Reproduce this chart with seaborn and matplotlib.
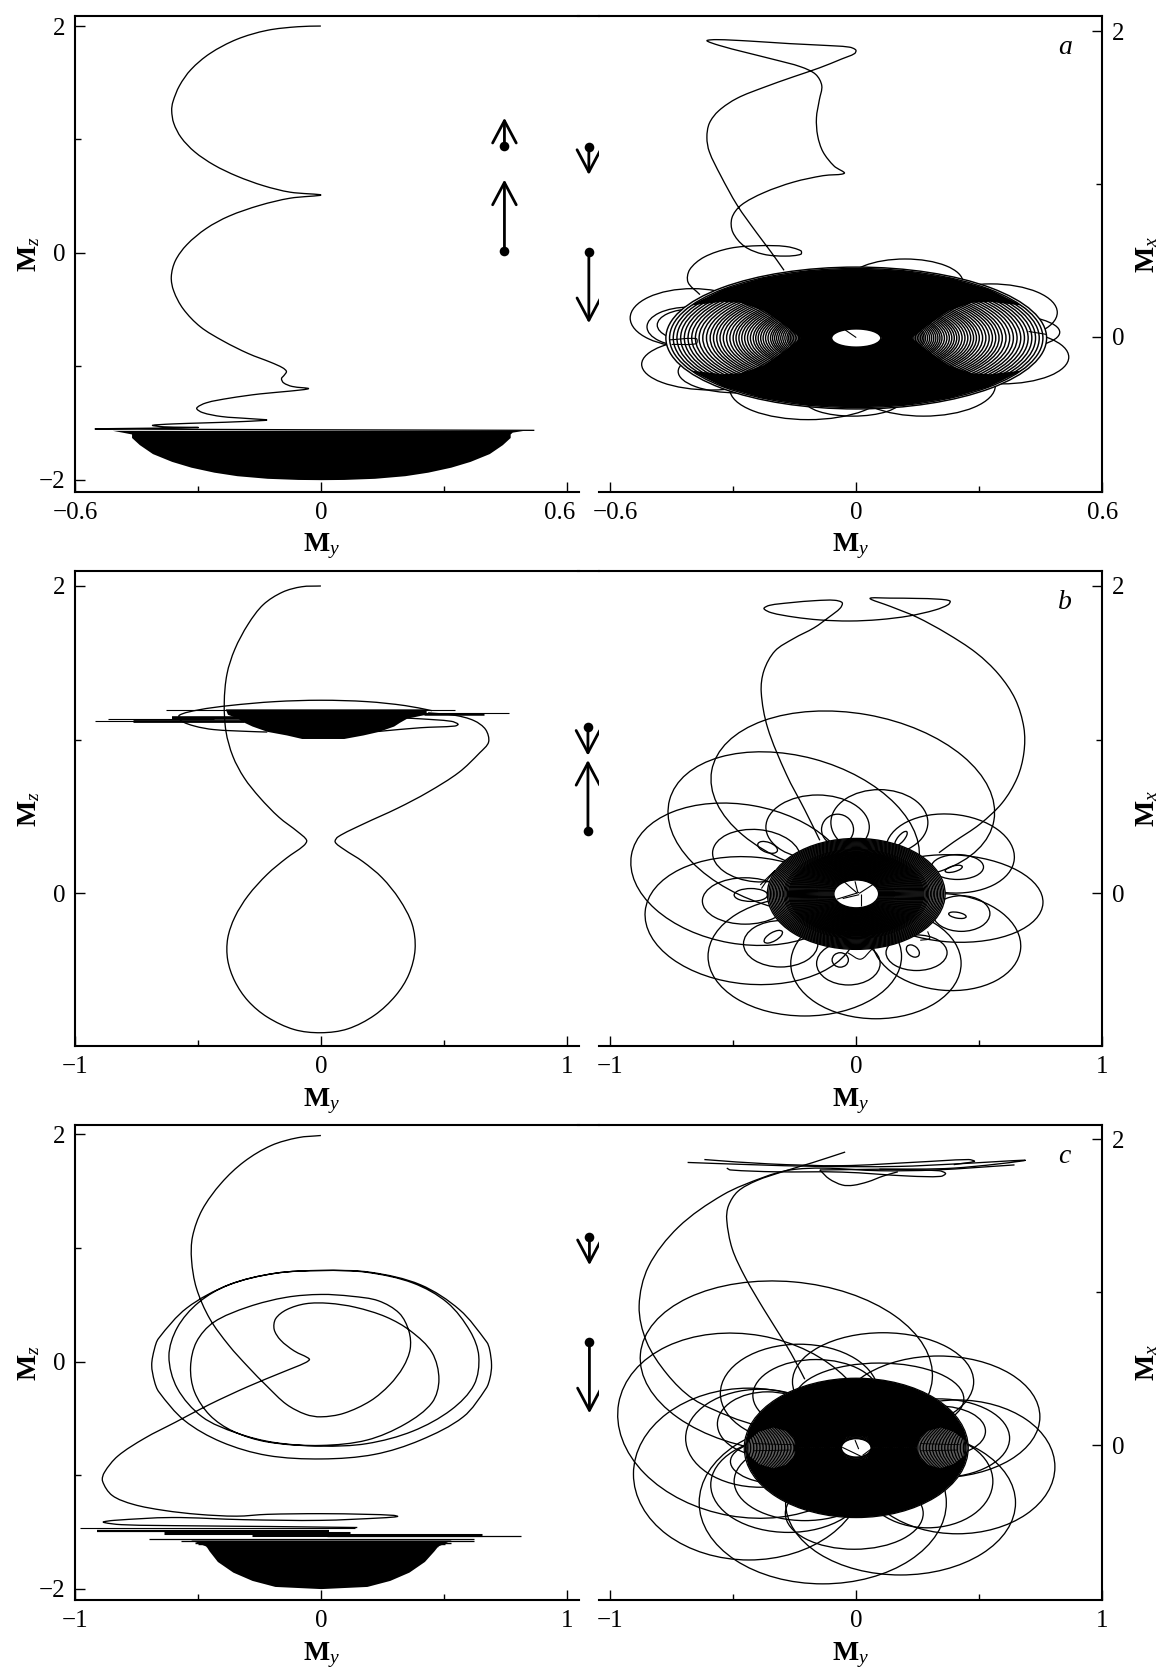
import numpy as np
import matplotlib
matplotlib.use("Agg")
import matplotlib.pyplot as plt
import seaborn as sns
from matplotlib.lines import Line2D
from matplotlib.patches import Ellipse
from matplotlib.path import Path
from matplotlib.patheffects import AbstractPathEffect
from matplotlib.transforms import Affine2D, IdentityTransform, ScaledTranslation

# ---------- panel a, left (My, Mz) ----------
a_l_x = [0,-.056,-.131,-.205,-.271,-.317,-.345,-.361,-.364,-.359,-.341,-.308,-.261,-.205,-.140,-.075,0,
         -.075,-.149,-.224,-.280,-.327,-.355,-.365,-.359,-.336,-.294,-.238,-.177,-.121,-.093,-.084,-.089,-.096,-.091,-.070,-.030,
         -.075,-.149,-.224,-.280,-.303,-.289,-.243,-.177,-.132,-.187,-.280,-.364,-.411,-.383,-.299,-.411,-.551,.521]
a_l_y = [2.0,1.994,1.962,1.883,1.757,1.616,1.474,1.332,1.254,1.143,1.017,.891,.775,.677,.592,.535,.510,
         .482,.419,.324,.214,.072,-.069,-.211,-.337,-.494,-.652,-.778,-.888,-.967,-1.014,-1.046,-1.077,-1.109,-1.146,-1.178,-1.197,
         -1.219,-1.244,-1.282,-1.323,-1.370,-1.408,-1.443,-1.461,-1.474,-1.487,-1.499,-1.509,-1.521,-1.534,-1.540,-1.546,-1.553,-1.565]
a_cap_z = [-1.565,-1.581,-1.597,-1.628,-1.691,-1.770,-1.839,-1.890,-1.934,-1.965,-1.988,-1.998,-2.0]
a_cap_l = [-.509,-.485,-.462,-.462,-.443,-.411,-.364,-.317,-.261,-.205,-.131,-.056,0]
a_cap_r = [.495,.467,.462,.462,.443,.411,.364,.317,.261,.205,.131,.056,0]

# ---------- panel a, right (My, Mx) ----------
a_r_x = [-.176,-.208,-.244,-.290,-.331,-.358,-.364,-.358,-.335,-.290,-.226,-.153,-.090,-.035,-.004,-.001,-.017,-.081,-.163,-.262,-.340,-.364,
         -.335,-.272,-.199,-.135,-.099,-.084,-.090,-.097,-.094,-.081,-.054,-.029,-.081,-.153,-.226,-.281,-.303,-.301,-.272,-.226,-.172,-.135,-.135,
         -.172,-.235,-.308,-.371,-.406,-.410,-.381]
a_r_y = [.435,.556,.685,.860,1.058,1.210,1.304,1.397,1.479,1.561,1.631,1.701,1.759,1.818,1.853,1.876,1.895,1.907,1.918,1.935,1.944,1.937,
         1.907,1.862,1.813,1.766,1.717,1.643,1.549,1.432,1.315,1.210,1.117,1.070,1.054,1.012,.942,.860,.778,.685,.591,.540,.528,.540,.563,
         .591,.596,.579,.521,.439,.357,.276]
a_loop_x = [-.399,-.408,-.399,-.353,-.290,-.117,.164,.355,.328,.346,.119,-.008]
a_loop_y = [.123,.065,.077,-.180,-.227,-.343,-.320,-.133,.159,.030,.357,-.414]
a_loop_a = [.152,.102,.086,.170,.144,.191,.175,.163,.162,.150,.141,.118]
a_loop_b = [.192,.129,.105,.168,.140,.199,.199,.175,.187,.117,.152,.105]
a_rings = [.464,.455,.446,.437,.428,.419,.410,.401,.392,.383,.374,.365,.356,.348,.340,.332,.324,.316,.308,.300,
           .293,.286,.279,.272,.265,.258,.251,.245,.239,.233,.227,.221,.215,.209,.204,.199,.194,.189,.184,.179,
           .174,.169,.165,.161,.157,.153,.149,.145,.141,.138,.135,.132,.129,.126,.123,.120,.117,.114,.111,.108,
           .105,.102,.099,.096,.093,.090,.087,.084,.081,.078,.075,.072,.069,.066,.063,.060]
# solid parts of the disc above and below the two striped lobes
a_solid_top_x = [-.426,-.399,-.326,-.281,-.226,-.181,-.135,-.063,-.05,-.035,0,.035,.05,.063,.135,.181,.226,.281,.326,.399,.426,
                 .394,.322,.228,.118,0,-.118,-.228,-.322,-.394]
a_solid_top_y = [.164,.206,.229,.222,.171,.089,-.008,-.008,.030,.058,.065,.058,.030,-.008,-.008,.089,.171,.222,.229,.206,.164,
                 .220,.314,.386,.432,.447,.432,.386,.314,.220]
a_solid_bot_x = a_solid_top_x
a_solid_bot_y = [-.180,-.222,-.245,-.238,-.187,-.105,-.008,-.008,-.046,-.074,-.081,-.074,-.046,-.008,-.008,-.105,-.187,-.238,-.245,-.222,-.180,
                 -.236,-.330,-.402,-.448,-.463,-.448,-.402,-.330,-.236]
a_spoke_x = [-.027,0]
a_spoke_y = [.045,-.005]
a_mark_x = [-.455,-.39,-.39,-.45]
a_mark_y = [-.02,-.012,-.045,-.05]
a_mark2_x = [.42,.465]
a_mark2_y = [.035,.015]

# ---------- panel b, left ----------
b_l_x = [0,-.078,-.156,-.234,-.296,-.350,-.382,-.393,-.386,-.358,-.312,-.249,-.171,-.093,-.058,-.070,-.140,-.218,-.296,-.350,-.379,-.379,
         -.350,-.296,-.218,-.109,0,.109,.218,.304,.358,.383,.371,.319,.249,.171,.093,.058,.070,.171,.312,.436,.561,.646,.682,.670,.623,.545,.436]
b_l_y = [2.0,1.995,1.960,1.879,1.751,1.588,1.426,1.240,1.053,.891,.751,.623,.495,.398,.344,.309,.228,.123,-.016,-.156,-.295,-.435,
         -.574,-.702,-.807,-.888,-.909,-.884,-.795,-.667,-.528,-.365,-.202,-.040,.100,.205,.286,.333,.367,.449,.553,.658,.786,.914,.984,1.065,1.123,1.158,1.174]
b_arc_x = [.452,.343,.187,0,-.187,-.374,-.498,-.576,-.569,-.514,-.436,-.296,-.218]
b_arc_y = [1.188,1.221,1.247,1.256,1.247,1.221,1.193,1.158,1.123,1.088,1.065,1.053,1.049]
b_lobe_x = [.234,.405,.545,.558,.530,.405,.343]
b_lobe_y = [1.053,1.077,1.088,1.100,1.119,1.135,1.140]
b_cap_z = [1.200,1.165,1.140,1.112,1.088,1.053,1.030,1.007]
b_cap_l = [-.389,-.380,-.340,-.312,-.280,-.218,-.140,-.078]
b_cap_r = [.428,.428,.350,.319,.296,.234,.171,.093]
b_h_y  = [1.193,1.165,1.174,1.123,1.119,1.135,1.138]
b_h_x0 = [-.631,.421,.421,-.919,-.763,-.864,-.607]
b_h_x1 = [.545,.662,.763,-.312,-.312,-.436,-.320]
b_h_w  = [.8,1.8,.8,.8,2.0,.8,2.6]

# ---------- panel b, right ----------
b_r_x = [-.148,-.209,-.284,-.360,-.386,-.375,-.330,-.254,-.171,-.110,-.065,-.057,-.088,-.163,-.269,-.352,-.375,-.345,-.254,-.148,-.027,.094,.215,.321,
         .374,.381,.336,.245,.139,.056,.139,.245,.366,.487,.578,.646,.681,.681,.654,.593,.502,.396,.336]
b_r_y = [.344,.542,.774,1.077,1.309,1.449,1.577,1.658,1.728,1.798,1.856,1.891,1.907,1.905,1.891,1.874,1.853,1.826,1.798,1.779,1.772,1.781,1.805,1.844,
         1.879,1.902,1.914,1.919,1.921,1.919,1.867,1.798,1.693,1.565,1.426,1.263,1.077,.914,.751,.588,.449,.333,.263]
b_loop_x = [-.014,-.254,-.466,-.428,-.209,.080,.366,.396,.381,-.157,.094,-.405,.411,-.451,.427,-.307,-.032,.245,-.076,.182,.396,-.428,.411,-.337,-.065,.230,-.360]
b_loop_y = [.635,.391,.123,-.179,-.412,-.458,-.319,-.035,.258,.430,.460,.244,.170,-.051,-.133,-.330,-.458,-.388,.414,.356,.158,-.012,-.144,-.284,-.435,-.377,.298]
b_loop_a = [.582,.522,.454,.431,.393,.346,.303,.363,.262,.210,.197,.179,.106,.174,.116,.151,.129,.124,.065,.036,.036,.068,.036,.042,.033,.030,.042]
b_loop_b = [.535,.500,.453,.414,.388,.360,.314,.284,.256,.209,.214,.170,.081,.151,.116,.151,.140,.116,.100,.021,.019,.042,.019,.028,.047,.033,.033]
b_loop_t = [-10,-15,-10,-5,0,0,-5,-3,-5,0,0,-5,0,0,0,0,0,0,0,50,15,0,-10,30,0,-40,-20]
b_rings = [.361,.355,.349,.343,.337,.331,.325,.319,.313,.307,.301,.295,.290,.285,.280,
           .275,.271,.267,.263,.259,.255,.251,.247,.243,.239,.235,.231,.227,.223,.219,.215,.211,.207,.203,.199,
           .195,.191,.187,.183,.179,.175,.171,.167,.163,.159,.155,.151,.147,.143,.139,.135,.131,.127,.123,.119,
           .115,.111,.107,.103,.099,.095,.091]
b_spoke_x0 = [.006,.012,.012,.018,-.055,.004]
b_spoke_y0 = [.007,-.002,.005,-.005,-.035,.0]
b_spoke_x1 = [-.005,.076,-.080,.018,.012,-.050]
b_spoke_y1 = [.077,.065,-.040,-.085,-.010,.075]
b_jag1_x = [-.035,.018,.064]
b_jag1_y = [-.388,-.430,-.365]
b_jag2_x = [.26,.298,.29]
b_jag2_y = [-.307,-.295,-.249]
b_jag3_x = [-.39,-.33,-.36,-.385]
b_jag3_y = [.053,.147,.088,.03]

# ---------- panel c, left ----------
c_l_x = [0,-.093,-.202,-.312,-.405,-.483,-.522,-.526,-.506,-.452,-.374,-.296,-.218,-.140,-.062,0,.093,.202,.280,.335,.363,.358,.319,.234,.125,0,
         -.140,-.296,-.436,-.506,-.530,-.514,-.452,-.358,-.218,0,.187,.374,.530,.623,.642,.607,.514,.374,.187,.003,-.187,-.374,-.545,-.660,-.677,-.688,-.677,
         -.659,-.555,-.405,-.218,.003,.218,.405,.579,.672,.688,.694,.686,.674,.564,.405,.202,.003,-.187,-.374,-.498,-.584,-.618,-.584,-.483,-.343,-.187,0,
         .187,.343,.452,.480,.452,.366,.265,.140,.031,-.062,-.140,-.184,-.190,-.164,-.109,-.047,-.062,-.156,-.296,-.452,-.592,-.717,-.826,-.880,
         -.888,-.849,-.763,-.639,-.498,-.343,-.218,0,.187,.296,.312,.249,0,-.312,-.607,-.841,-.885,-.810,-.530,-.218,.148]
c_l_y = [1.991,1.972,1.903,1.761,1.572,1.336,1.101,.896,.645,.377,.142,-.047,-.220,-.377,-.465,-.487,-.456,-.346,-.204,-.047,.110,.267,.425,.535,.575,.591,
         .566,.481,.346,.173,-.047,-.267,-.472,-.613,-.708,-.745,-.723,-.613,-.425,-.204,.047,.267,.519,.692,.786,.802,.777,.676,.472,.204,.110,-.031,-.173,
         -.267,-.519,-.708,-.827,-.858,-.818,-.692,-.487,-.236,-.141,-.031,.107,.173,.456,.676,.786,.802,.777,.676,.519,.299,.047,-.236,-.487,-.629,-.714,-.739,
         -.692,-.550,-.362,-.157,.079,.267,.393,.478,.513,.509,.456,.377,.283,.189,.094,.022,-.009,-.094,-.220,-.377,-.535,-.676,-.833,-.975,
         -1.053,-1.179,-1.258,-1.311,-1.346,-1.362,-1.346,-1.340,-1.346,-1.355,-1.365,-1.377,-1.399,-1.393,-1.374,-1.399,-1.415,-1.437,-1.447,-1.453,-1.462]
c_cap_z = [-1.572,-1.626,-1.667,-1.761,-1.855,-1.928,-1.981,-2.0]
c_cap_l = [-.530,-.467,-.455,-.421,-.358,-.280,-.187,0]
c_cap_r = [.530,.475,.460,.421,.358,.280,.187,0]
c_h_y  = [-1.469,-1.494,-1.509,-1.525,-1.535,-1.566,-1.582,-1.597,-1.610,-1.626]
c_h_x0 = [-.978,-.911,-.639,-.280,.023,-.701,-.569,-.514,-.498,-.467]
c_h_x1 = [.140,.031,.117,.654,.813,.623,.623,.530,.506,.475]
c_h_w  = [.8,1.6,2.2,2.2,.9,.9,.9,1.0,1.0,1.0]

# ---------- panel c, right ----------
c_a_x = [-.209,-.247,-.284,-.375,-.451,-.504,-.526,-.519,-.481,-.405,-.300,-.179,-.045]
c_a_y = [.432,.549,.654,.888,1.098,1.285,1.472,1.565,1.659,1.729,1.787,1.846,1.916]
c_b_x = [-.405,-.511,-.663,-.769,-.852,-.882,-.844,-.723,-.542,-.375,-.269,-.133,.094,.321,.643]
c_b_y = [.129,.187,.304,.467,.678,.911,1.168,1.425,1.636,1.752,1.799,1.811,1.794,1.799,1.832]
c_c_x = [-.685,-.436,-.148,.169,.411,.687,.396,.094,-.148]
c_c_y = [1.848,1.834,1.822,1.822,1.839,1.862,1.811,1.804,1.799]
c_d_x = [-.617,-.360,-.057,.245,.457,.480,.396]
c_d_y = [1.867,1.839,1.827,1.850,1.867,1.855,1.834]
c_e_x = [-.526,-.511,-.330,-.057,.215,.343,.363,.336,.094]
c_e_y = [1.811,1.799,1.787,1.785,1.759,1.757,1.776,1.794,1.804]
c_f_x = [-.148,-.110,-.057,-.012,.048,.109,.169]
c_f_y = [1.799,1.741,1.701,1.699,1.722,1.759,1.787]
c_loop_x = [-.284,-.451,-.436,-.136,.180,.411,.335,.109,-.390,-.231,-.163,.336,.336,-.360,.290,-.276,-.209,-.008,.094,-.284]
c_loop_y = [.514,.129,-.187,-.374,-.374,-.140,.187,.416,.047,.339,.327,.047,.093,.140,-.234,-.257,-.234,-.444,.304,-.105]
c_loop_a = [.595,.522,.469,.502,.467,.396,.411,.368,.303,.321,.257,.287,.189,.204,.265,.315,.287,.280,.343,.227]
c_loop_b = [.556,.596,.561,.530,.472,.437,.397,.320,.320,.322,.234,.257,.164,.210,.304,.311,.257,.234,.234,.152]
c_loop_t = [-5,-10,0,0,0,0,0,0,0,0,0,0,0,0,0,0,0,0,0,0]
c_rings = [.455,.450,.445,.441,.436,.430,.424,.418,.412,.406,.400,.394,.388,.382,.376,.370,.364,.358,.352,.346,
           .340,.334,.328,.322,.316,.310,.304,.298,.292,.286,.280,.274,.268,.262,.256,.251,.247,.243,.238,.234,
           .229,.225,.220,.216,.211,.207,.202,.198,.193,.189,
           .184,.180,.175,.171,.166,.162,.157,.153,.148,.144,.139,.135,.130,.126,.121,.117,.112,.108,.103,.099,
           .094,.090,.085,.081,.076,.072,.067,.063,.060]
c_solid_top_x = [-.451,-.435,-.395,-.337,-.285,-.255,-.242,-.062,-.05,-.042,.003,.048,.05,.062,.245,.26,.29,.343,.395,.44,.457,
                 .438,.392,.320,.226,.117,0,-.117,-.226,-.320,-.392,-.438]
c_solid_top_y = [-.016,.035,.09,.117,.095,.05,-.016,-.016,.024,.058,.065,.058,.024,-.016,-.016,.05,.095,.117,.09,.035,-.016,
                 .101,.211,.304,.376,.422,.437,.422,.376,.304,.211,.101]
c_solid_bot_x = c_solid_top_x
c_solid_bot_y = [-.016,-.067,-.122,-.149,-.127,-.082,-.016,-.016,-.056,-.090,-.097,-.090,-.056,-.016,-.016,-.082,-.127,-.149,-.122,-.067,-.016,
                 -.133,-.243,-.336,-.408,-.454,-.469,-.454,-.408,-.336,-.243,-.133]
c_spoke_x0 = [-.005,-.057,.060]
c_spoke_y0 = [.035,-.012,-.024]
c_spoke_x1 = [.010,.018,.026]
c_spoke_y1 = [-.024,-.070,-.065]
c_mark_x0 = [-.42,-.42,.26,.26]
c_mark_y0 = [.012,-.035,.012,-.035]
c_mark_x1 = [-.26,-.27,.42,.41]
c_mark_y1 = [.005,-.03,.005,-.03]

# ---------- axes labels ----------
lim_x_a_l, lim_x_a_r = (-.6, .629), (-.627, .6)
lim_x_l, lim_x_r = (-1, 1.048), (-1.045, 1)
lim_y = {"a": ((-2.107, 2.085), (-1.014, 2.096)),
         "b": ((-.998, 2.095), (-.998, 2.095)),
         "c": ((-2.104, 2.08), (-1.012, 2.09))}
tick_a_major, tick_a_minor = [-.6, 0, .6], [-.3, .3]
tick_major, tick_minor = [-1, 0, 1], [-.5, .5]
tick_labels_a = ["\u22120.6", "0", "0.6"]
tick_labels = ["\u22121", "0", "1"]

# ---------- arrows (x, tail, head) ----------
arrows = {"a": [(.448, .945, 1.191), (.448, .016, .646), (.654, .932, .687), (.654, .009, -.620)],
          "b": [(1.086, 1.084, .895), (1.086, .402, .867)],
          "c": [(1.092, 1.101, .849), (1.092, .173, -.456)]}

sns.set_theme(style="ticks")
plt.rcParams.update({
    "font.family": ["Liberation Serif", "DejaVu Serif"],
    "mathtext.fontset": "custom", "mathtext.rm": "Liberation Serif",
    "mathtext.it": "Liberation Serif:italic", "mathtext.bf": "Liberation Serif:bold",
    "axes.unicode_minus": True,
})

W, H = 1165, 1670
fig = plt.figure(figsize=(W / 100, H / 100), dpi=100)
LW = 0.95
SP = 1.5

rows = {"a": (16.4, 491.8), "b": (571.4, 1046.4), "c": (1125.4, 1600.4)}
LX, RX = (75, 578.6), (599, 1102.4)


class Smooth(AbstractPathEffect):
    """Renders a seaborn line through its points as a curve, not as straight pieces."""

    def draw_path(self, renderer, gc, tpath, affine, rgbFace=None):
        p = affine.transform(tpath.vertices)
        keep = np.r_[True, np.hypot(*np.diff(p, axis=0).T) > 1e-6]
        p = p[keep]
        if len(p) < 3:
            renderer.draw_path(gc, tpath, affine, rgbFace)
            return
        d = np.hypot(*np.diff(p, axis=0).T)
        t = np.zeros_like(p)
        t[1:-1] = (p[2:] - p[:-2]) / (d[:-1] + d[1:])[:, None]
        t[0] = (p[1] - p[0]) / d[0]
        t[-1] = (p[-1] - p[-2]) / d[-1]
        verts, codes = [p[0]], [Path.MOVETO]
        for i in range(len(d)):
            verts += [p[i] + t[i] * d[i] / 3, p[i + 1] - t[i + 1] * d[i] / 3, p[i + 1]]
            codes += [Path.CURVE4] * 3
        renderer.draw_path(gc, Path(verts, codes), IdentityTransform(), rgbFace)


def mk(px, py):
    return fig.add_axes([px[0] / W, 1 - py[1] / H, (px[1] - px[0]) / W, (py[1] - py[0]) / H])


def trace(ax, x, y, lw=LW):
    n = len(ax.lines)
    sns.lineplot(x=x, y=y, ax=ax, sort=False, estimator=None, color="black", lw=lw,
                 legend=False, solid_joinstyle="round", solid_capstyle="butt")
    for line in ax.lines[n:]:
        line.set_path_effects([Smooth()])


def cap(ax, z, l, r):
    ax.fill_betweenx(z, l, r, color="black", lw=0)


def hl(ax, ys, x0, x1, w):
    for y, a, b, k in zip(ys, x0, x1, w):
        trace(ax, [a, b], [y, y], lw=k)


def loops(ax, xs, ys, aa, bb, tt=None):
    xl, yl = ax.get_xlim(), ax.get_ylim()
    bb_ax = ax.get_position()
    sx = bb_ax.width * W / (xl[1] - xl[0])
    sy = bb_ax.height * H / (yl[1] - yl[0])
    tr = Affine2D().scale(1 / sx, 1 / sy) + ax.transData
    tt = tt or [0] * len(xs)
    for x, y, a, b, t in zip(xs, ys, aa, bb, tt):
        ax.add_patch(Ellipse((x * sx, y * sy), 2 * a * sx, 2 * b * sy, angle=t, fill=False,
                             ec="black", lw=LW, transform=tr))


def rings(ax, rr, cy, lw=1.0):
    ax.add_patch(Ellipse((0, cy), 2 * rr[0], 2 * rr[0], fc="white", ec="none"))
    for r in rr:
        ax.add_patch(Ellipse((0, cy), 2 * r, 2 * r, fill=False, ec="black", lw=lw))


def style(ax, side, xt, xl, xm, ylab_major, ylab_txt, ylab_minor):
    ax.set_xticks(xt)
    ax.set_xticklabels(xl)
    ax.set_xticks(xm, minor=True)
    ax.set_yticks(ylab_major)
    ax.set_yticklabels(ylab_txt)
    ax.set_yticks(ylab_minor, minor=True)
    for s in ax.spines.values():
        s.set_linewidth(SP)
        s.set_color("black")
    if side == "left":
        ax.spines["right"].set_visible(False)
        ax.tick_params(axis="y", which="both", direction="in", left=True, right=False,
                       labelleft=True, labelright=False)
    else:
        ax.spines["left"].set_visible(False)
        ax.tick_params(axis="y", which="both", direction="in", left=False, right=True,
                       labelleft=False, labelright=True)
    ax.tick_params(axis="x", which="both", direction="in", bottom=True, top=False)
    ax.tick_params(which="major", length=7, width=1.0, labelsize=18, pad=7, color="black", labelcolor="black")
    ax.tick_params(which="minor", length=4.5, width=1.0, color="black")
    ax.set_xlabel(r"$\mathbf{M}_{y}$", fontsize=20, color="black")
    ax.xaxis.set_label_coords(.489 if side == "left" else .5, -.084)
    ax.grid(False)


panels = {}
for key in "abc":
    axl, axr = mk(LX, rows[key]), mk(RX, rows[key])
    axl.set_xlim(lim_x_a_l if key == "a" else lim_x_l)
    axr.set_xlim(lim_x_a_r if key == "a" else lim_x_r)
    axl.set_ylim(lim_y[key][0])
    axr.set_ylim(lim_y[key][1])
    panels[key] = (axl, axr)

# panel a
L, R = panels["a"]
trace(L, a_l_x, a_l_y)
cap(L, a_cap_z, a_cap_l, a_cap_r)
trace(R, a_r_x, a_r_y)
loops(R, a_loop_x, a_loop_y, a_loop_a, a_loop_b)
rings(R, a_rings, -.008, lw=1.05)
R.fill(a_solid_top_x, a_solid_top_y, color="black", lw=0)
R.fill(a_solid_bot_x, a_solid_bot_y, color="black", lw=0)
trace(R, a_spoke_x, a_spoke_y, lw=.8)
trace(R, a_mark_x, a_mark_y, lw=.8)
trace(R, a_mark2_x, a_mark2_y, lw=.8)

# panel b
L, R = panels["b"]
trace(L, b_l_x, b_l_y)
trace(L, b_arc_x, b_arc_y)
trace(L, b_lobe_x, b_lobe_y)
cap(L, b_cap_z, b_cap_l, b_cap_r)
hl(L, b_h_y, b_h_x0, b_h_x1, b_h_w)
trace(R, b_r_x, b_r_y)
loops(R, b_loop_x, b_loop_y, b_loop_a, b_loop_b, b_loop_t)
rings(R, b_rings, -.005, lw=1.0)
for a, b, c, d in zip(b_spoke_x0, b_spoke_y0, b_spoke_x1, b_spoke_y1):
    trace(R, [a, c], [b, d], lw=.8)
for x, y in [(b_jag1_x, b_jag1_y), (b_jag2_x, b_jag2_y), (b_jag3_x, b_jag3_y)]:
    trace(R, x, y, lw=.8)

# panel c
L, R = panels["c"]
trace(L, c_l_x, c_l_y)
cap(L, c_cap_z, c_cap_l, c_cap_r)
hl(L, c_h_y, c_h_x0, c_h_x1, c_h_w)
for x, y in [(c_a_x, c_a_y), (c_b_x, c_b_y), (c_c_x, c_c_y), (c_d_x, c_d_y), (c_e_x, c_e_y), (c_f_x, c_f_y)]:
    trace(R, x, y)
loops(R, c_loop_x, c_loop_y, c_loop_a, c_loop_b, c_loop_t)
rings(R, c_rings, -.016, lw=0.9)
R.fill(c_solid_top_x, c_solid_top_y, color="black", lw=0)
R.fill(c_solid_bot_x, c_solid_bot_y, color="black", lw=0)
for a, b, c, d in zip(c_spoke_x0, c_spoke_y0, c_spoke_x1, c_spoke_y1):
    trace(R, [a, c], [b, d], lw=.8)
for a, b, c, d in zip(c_mark_x0, c_mark_y0, c_mark_x1, c_mark_y1):
    trace(R, [a, c], [b, d], lw=.6)

# styling, tick labels, axis names, letters, arrows
for key in "abc":
    L, R = panels[key]
    is_a = key == "a"
    xt = tick_a_major if is_a else tick_major
    xl = tick_labels_a if is_a else tick_labels
    xm = tick_a_minor if is_a else tick_minor
    if key == "b":
        style(L, "left", xt, xl, xm, [0, 2], ["0", "2"], [1])
        style(R, "right", xt, xl, xm, [0, 2], ["0", "2"], [1])
    else:
        style(L, "left", xt, xl, xm, [-2, 0, 2], ["\u22122", "0", "2"], [-1, 1])
        style(R, "right", xt, xl, xm, [0, 2], ["0", "2"], [1])
    if is_a:
        lab = L.get_xticklabels()[-1]
        lab.set_transform(lab.get_transform() + ScaledTranslation(-7 / 100, 0, fig.dpi_scale_trans))
        lab = R.get_xticklabels()[0]
        lab.set_transform(lab.get_transform() + ScaledTranslation(5 / 100, 0, fig.dpi_scale_trans))
    L.text(-.092, .5, r"$\mathbf{M}_{z}$", transform=L.transAxes, rotation=90, fontsize=20,
           ha="center", va="center", color="black")
    R.text(1.088, .5, r"$\mathbf{M}_{x}$", transform=R.transAxes, rotation=90, fontsize=20,
           ha="center", va="center", color="black")
    R.text(.925, .935, key, transform=R.transAxes, fontsize=20, style="italic",
           ha="center", va="center", color="black")
    for x, tail, head in arrows[key]:
        L.annotate("", xy=(x, head), xytext=(x, tail), annotation_clip=False,
                   arrowprops=dict(arrowstyle="->,head_length=16,head_width=8.5", mutation_scale=1,
                                   lw=2.0, color="black", shrinkA=0, shrinkB=0))
    sns.scatterplot(x=[a[0] for a in arrows[key]], y=[a[1] for a in arrows[key]], ax=L,
                    color="black", s=48, linewidth=0, legend=False, clip_on=False, zorder=5)
    y_top = 1 - rows[key][0] / H
    fig.add_artist(Line2D([LX[1] / W - .001, RX[0] / W + .001], [y_top, y_top], color="black", lw=SP))

fig.savefig("out.png", dpi=100, facecolor="white")
